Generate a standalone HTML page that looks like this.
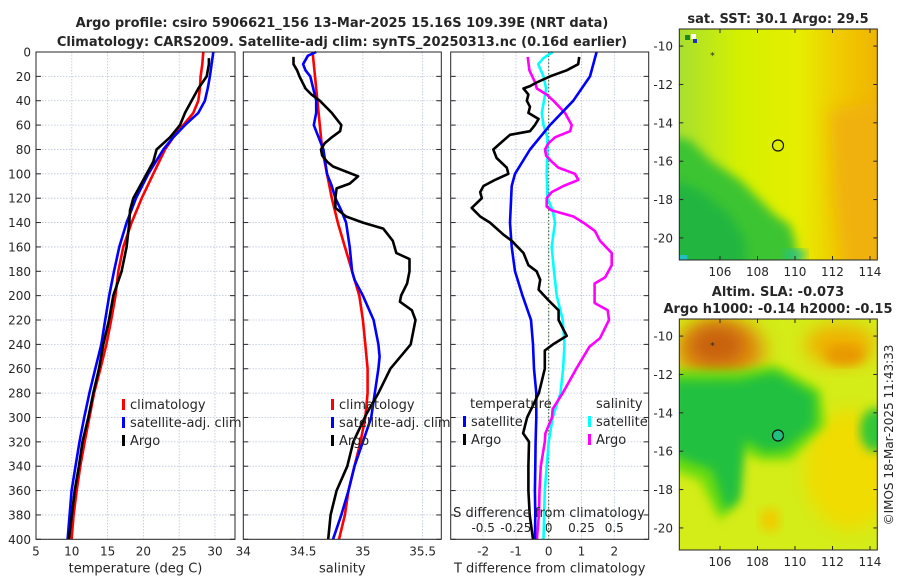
<!DOCTYPE html>
<html><head><meta charset="utf-8"><style>
body{margin:0;background:#fff}
svg text{font-family:"DejaVu Sans","Liberation Sans",sans-serif;fill:#262626}
</style></head><body>
<svg id="s" width="900" height="580" viewBox="0 0 900 580" xmlns="http://www.w3.org/2000/svg">
<defs>
<filter id="b4" x="-20%" y="-20%" width="140%" height="140%"><feGaussianBlur stdDeviation="5"/></filter>
<filter id="b8" x="-30%" y="-30%" width="160%" height="160%"><feGaussianBlur stdDeviation="9"/></filter>
<clipPath id="c1"><rect x="679.3" y="29" width="198" height="231"/></clipPath>
<clipPath id="c2"><rect x="679.3" y="319" width="198" height="231"/></clipPath>
<linearGradient id="g1" x1="0" x2="1" y1="0" y2="0">
<stop offset="0" stop-color="#a8e030"/><stop offset="0.3" stop-color="#d4f000"/><stop offset="0.6" stop-color="#e6ee00"/><stop offset="0.8" stop-color="#f0cc00"/><stop offset="1" stop-color="#f0b400"/></linearGradient>
</defs>
<text x="342" y="27" text-anchor="middle" font-size="13" font-weight="bold">Argo profile: csiro 5906621_156 13-Mar-2025 15.16S 109.39E (NRT data)</text>
<text x="342" y="46" text-anchor="middle" font-size="13" font-weight="bold">Climatology: CARS2009. Satellite-adj clim: synTS_20250313.nc (0.16d earlier)</text>

<g>
<g clip-path="url(#c1)">
<rect x="679.3" y="29" width="198" height="231" fill="url(#g1)"/>
<polygon filter="url(#b4)" fill="#3cc430" points="660,135 690,140 710,160 740,180 760,200 775,215 790,225 795,240 800,275 660,275"/>
<polygon filter="url(#b4)" fill="#22b640" points="660,175 700,190 730,215 745,240 745,275 660,275"/>
<polygon filter="url(#b8)" fill="#f0b010" points="830,110 890,100 890,275 845,275 835,200"/>
<rect x="685" y="35" width="5" height="5" fill="#1a8a20"/><rect x="691" y="34" width="5" height="5" fill="#fff"/><rect x="693" y="39" width="4" height="4" fill="#2030c0"/>
<rect x="679.3" y="255" width="8" height="5" fill="#20c0c0"/><rect x="785" y="250" width="20" height="10" fill="#20c090" filter="url(#b4)"/>
</g>
<rect x="679.3" y="29" width="198" height="231" fill="none" stroke="#262626" stroke-width="1"/>
<circle cx="778" cy="145.5" r="5.5" fill="none" stroke="#111" stroke-width="1.2"/>
<text x="778" y="23" text-anchor="middle" font-size="13" font-weight="bold">sat. SST: 30.1 Argo: 29.5</text>
</g>

<g>
<g clip-path="url(#c2)">
<rect x="679.3" y="319" width="198" height="231" fill="#d4ec18"/>
<ellipse cx="850" cy="470" rx="45" ry="60" fill="#f0dc00" filter="url(#b8)"/>
<ellipse cx="720" cy="350" rx="45" ry="32" fill="#e09010" filter="url(#b8)"/>
<ellipse cx="717" cy="345" rx="28" ry="20" fill="#c86010" filter="url(#b8)"/>
<ellipse cx="840" cy="345" rx="35" ry="20" fill="#f0b000" filter="url(#b8)"/>
<ellipse cx="845" cy="355" rx="20" ry="10" fill="#e89800" filter="url(#b4)"/>
<polygon filter="url(#b4)" fill="#6cdc10" points="672,370 740,370 775,365 820,390 825,425 790,460 760,460 740,450 735,505 720,520 700,480 672,470"/>
<polygon filter="url(#b4)" fill="#22c040" points="672,380 738,380 775,372 815,395 815,425 785,450 765,452 745,440 740,500 725,510 712,470 672,455"/>
<ellipse cx="875" cy="430" rx="15" ry="22" fill="#30c838" filter="url(#b4)"/>
<ellipse cx="770" cy="520" rx="10" ry="12" fill="#f0cc00" filter="url(#b4)"/>
</g>
<rect x="679.3" y="319" width="198" height="231" fill="none" stroke="#262626" stroke-width="1"/>
<circle cx="778" cy="435.5" r="5.5" fill="#20c080" stroke="#111" stroke-width="1.2"/>
<text x="778" y="296" text-anchor="middle" font-size="13" font-weight="bold">Altim. SLA: -0.073</text>
<text x="778" y="313" text-anchor="middle" font-size="13" font-weight="bold">Argo h1000: -0.14 h2000: -0.15</text>
</g>
<text transform="translate(893,435) rotate(-90)" text-anchor="middle" font-size="12">©IMOS 18-Mar-2025 11:43:33</text>
<g id="plots"></g>
</svg>
<script>
// ---- data ----
const redTDepth=[0,10,20,30,40,50,60,70,80,100,120,140,160,180,200,220,240,260,280,300,320,340,360,380,400];
const redT=[28.37,28.23,28.0,27.9,27.67,26.97,25.58,24.18,23.02,21.39,19.76,18.36,17.2,16.5,16.1,15.5,14.84,14.0,13.12,12.46,11.8,11.19,10.69,10.25,9.97];
const blueTDepth=[0,10,20,30,40,50,60,70,80,100,120,140,160,180,200,220,240,260,280,300,320,340,360,380,400];
const blueT=[29.77,29.53,29.3,28.98,28.6,27.67,25.81,24.18,22.78,20.69,18.97,17.66,16.64,15.89,15.22,14.67,14.12,13.29,12.46,11.74,11.08,10.52,9.97,9.69,9.42];
const argoTDepth=[5,10,20,30,40,50,60,70,80,90,100,110,120,130,140,160,180,200,220,240,260,280,300,320,340,360,380,400];
const argoT=[29.16,29.16,28.84,27.67,26.74,25.81,25.11,23.72,21.85,21.39,20.46,19.53,18.59,18.13,18.04,17.66,16.96,15.8,15.2,14.4,13.8,13.0,12.3,11.5,11.0,10.4,10.0,9.6];

const redSDepth=[0,20,40,60,80,100,120,140,160,180,200,220,240,260,280,300,320,340,360,380,400];
const redS=[34.58,34.60,34.62,34.64,34.66,34.70,34.74,34.79,34.85,34.91,34.97,35.0,35.02,35.04,35.04,35.02,34.98,34.93,34.88,34.85,34.80];
const blueSDepth=[0,3,10,15,20,40,50,60,70,80,100,110,120,130,140,160,180,187,200,220,240,250,260,280,300,320,340,360,380,400];
const blueS=[34.61,34.54,34.50,34.52,34.56,34.61,34.61,34.59,34.63,34.67,34.70,34.74,34.77,34.82,34.86,34.89,34.91,34.93,35.0,35.09,35.13,35.14,35.13,35.10,35.07,35.0,34.93,34.88,34.82,34.75];
const argoSDepth=[4,10,15,20,30,35,40,50,60,65,70,75,80,85,90,94,102,108,112,120,128,135,140,145,155,165,170,180,190,200,205,212,220,240,260,280,297,320,340,360,380,400];
const argoS=[34.42,34.42,34.45,34.47,34.52,34.57,34.64,34.74,34.82,34.81,34.74,34.68,34.65,34.66,34.70,34.75,34.96,34.89,34.78,34.77,34.77,34.86,35.0,35.17,35.25,35.28,35.39,35.39,35.37,35.32,35.31,35.41,35.44,35.40,35.23,35.13,35.03,34.92,34.87,34.78,34.73,34.71];

const argoTdDepth=[4,10,15,20,25,28,30,35,40,45,50,55,60,65,68,75,80,87,95,100,105,110,115,120,128,135,140,150,155,165,175,180,187,195,204,212,220,233,240,245,260,280,300,313,320,340,360,380,400];
const argoTd=[0.93,0.90,0.55,0.04,-0.37,-0.57,-0.77,-0.62,-0.67,-0.57,-0.62,-0.31,-0.42,-0.57,-1.18,-1.48,-1.69,-1.59,-1.28,-1.23,-1.64,-1.99,-2.09,-2.04,-2.35,-2.09,-1.79,-1.38,-1.13,-0.77,-0.62,-0.37,-0.26,-0.31,0.0,0.30,0.30,0.55,0.13,-0.12,-0.12,-0.30,-0.66,-0.78,-0.60,-0.62,-0.62,-0.58,-0.48];
const satTdDepth=[0,20,40,60,80,100,110,140,160,180,200,220,240,260,280,300,320,340,360,380,400];
const satTd=[1.46,1.26,0.75,0.04,-0.57,-1.03,-1.13,-1.18,-1.13,-1.03,-0.8,-0.54,-0.48,-0.45,-0.38,-0.38,-0.40,-0.41,-0.42,-0.41,-0.42];
const satSdDepth=[0,5,10,20,30,40,50,60,70,80,100,120,130,140,160,180,200,220,240,260,280,300,320,340,360,380,400];
const satSd=[0.03,-0.04,-0.08,-0.04,-0.02,-0.036,-0.053,-0.04,-0.01,-0.01,-0.015,-0.01,0.03,0.048,0.023,0.04,0.061,0.107,0.12,0.11,0.09,0.03,0.0,-0.015,-0.03,-0.035,-0.04];
const argoSdDepth=[4,15,25,30,35,40,50,60,65,70,75,80,85,90,95,100,105,110,115,120,127,130,135,140,147,155,165,175,185,190,206,212,220,235,242,260,280,293,300,313,320,340,360,380,400];
const argoSd=[-0.16,-0.147,-0.104,-0.091,-0.015,0.036,0.124,0.175,0.163,0.048,-0.003,-0.028,-0.02,0.023,0.074,0.2,0.226,0.112,0.023,-0.015,-0.015,0.023,0.188,0.264,0.353,0.391,0.48,0.48,0.43,0.35,0.35,0.45,0.46,0.39,0.31,0.21,0.107,0.03,0.025,-0.025,-0.03,-0.06,-0.07,-0.075,-0.09];

const depthTicks=[0,20,40,60,80,100,120,140,160,180,200,220,240,260,280,300,320,340,360,380,400];
const tTicks=[5,10,15,20,25,30];
const sTicks=[34,34.5,35,35.5];
const tdTicks=[-2,-1,0,1,2];
const sdTicks=[-0.5,-0.25,0,0.25,0.5];
const sdTickLabels=["-0.5","-0.25","0","0.25","0.5"];
const lonTicks=[106,108,110,112,114];
const latTicks=[-10,-12,-14,-16,-18,-20];

// ---- drawing ----
const NS="http://www.w3.org/2000/svg";
const root=document.getElementById('plots');
const Y0=52,Y1=539.3;
const yS=d=>Y0+(d/400)*(Y1-Y0);
function mk(tag,attrs,parent){const e=document.createElementNS(NS,tag);for(const k in attrs)e.setAttribute(k,attrs[k]);(parent||root).appendChild(e);return e;}
function lin(d0,d1,r0,r1){return v=>r0+(v-d0)/(d1-d0)*(r1-r0);}
const panels=[
 {name:'temperature-panel',x0:36,x1:235,d0:5,d1:32.8,ticks:tTicks,labels:tTicks.map(String),xlabel:'temperature (deg C)',ylab:true},
 {name:'salinity-panel',x0:243.3,x1:441.3,d0:34,d1:35.656,ticks:sTicks,labels:sTicks.map(String),xlabel:'salinity'},
 {name:'difference-panel',x0:450.7,x1:648.7,d0:-2.99,d1:3.05,ticks:tdTicks,labels:tdTicks.map(String),xlabel:'T difference from climatology'}
];
panels.forEach(p=>{
 p.x=lin(p.d0,p.d1,p.x0,p.x1);
 const g=mk('g',{});
 
 
 p.g=g;
 mk('rect',{x:p.x0,y:Y0,width:p.x1-p.x0,height:Y1-Y0,fill:'#fff'},g);
 depthTicks.forEach(d=>{
  const l=mk('line',{x1:p.x0,x2:p.x1,y1:yS(d),y2:yS(d),stroke:'#b8c4dc','stroke-width':0.8,'stroke-dasharray':'1.5,1.5'},g);
  
  
  mk('line',{x1:p.x0,x2:p.x0+5,y1:yS(d),y2:yS(d),stroke:'#262626'},g);
  mk('line',{x1:p.x1-5,x2:p.x1,y1:yS(d),y2:yS(d),stroke:'#262626'},g);
  if(p.ylab){const t=mk('text',{x:p.x0-5,y:yS(d)+4.5,'text-anchor':'end','font-size':12},g);t.textContent=d;
   
   }
 });
 p.ticks.forEach((v,i)=>{
  const X=p.x(v);
  mk('line',{x1:X,x2:X,y1:Y0,y2:Y1,stroke:'#b8c4dc','stroke-width':0.8,'stroke-dasharray':'1.5,1.5'},g);
  const t=mk('text',{x:X,y:Y1+16,'text-anchor':'middle','font-size':12},g);t.textContent=p.labels[i];
  
  
 });
 const xl=mk('text',{x:(p.x0+p.x1)/2,y:Y1+33,'text-anchor':'middle','font-size':13},g);xl.textContent=p.xlabel;
 
 
});
function series(p,depths,vals,color,name,xf){
 const f=xf||p.x;
 const pts=depths.map((d,i)=>f(vals[i]).toFixed(1)+','+yS(d).toFixed(1)).join(' ');
 const pl=mk('polyline',{points:pts,fill:'none',stroke:color,'stroke-width':2.6,'stroke-linejoin':'round'},p.g);
 
 
}
const P1=panels[0],P2=panels[1],P3=panels[2];
// zero line in diff panel
mk('line',{x1:P3.x(0),x2:P3.x(0),y1:Y0,y2:Y1,stroke:'#335522','stroke-width':1,'stroke-dasharray':'1.5,2'},P3.g);
series(P1,redTDepth,redT,'#ff0000','climatology-temperature-line');
series(P1,blueTDepth,blueT,'#0000ff','satellite-temperature-line');
series(P1,argoTDepth,argoT,'#000000','argo-temperature-line');
series(P2,redSDepth,redS,'#ff0000','climatology-salinity-line');
series(P2,blueSDepth,blueS,'#0000ff','satellite-salinity-line');
series(P2,argoSDepth,argoS,'#000000','argo-salinity-line');
const sx=lin(P3.d0/4,P3.d1/4,P3.x0,P3.x1);
series(P3,satSdDepth,satSd,'#00ffff','satellite-salinity-diff-line',sx);
series(P3,argoSdDepth,argoSd,'#ff00ff','argo-salinity-diff-line',sx);
series(P3,satTdDepth,satTd,'#0000ff','satellite-temperature-diff-line');
series(P3,argoTdDepth,argoTd,'#000000','argo-temperature-diff-line');
// S-diff axis labels inside
sdTicks.forEach((v,i)=>{const t=mk('text',{x:sx(v),y:532,'text-anchor':'middle','font-size':12},P3.g);t.textContent=sdTickLabels[i];
 
 });
{const t=mk('text',{x:549,y:517,'text-anchor':'middle','font-size':13},P3.g);t.textContent='S difference from climatology';
 
 }
panels.forEach(p=>mk('rect',{x:p.x0,y:Y0,width:p.x1-p.x0,height:Y1-Y0,fill:'none',stroke:'#262626','stroke-width':1},p.g));
// legends
function legend(x,y,color,label,name){
 const g=mk('g',{});
 
 
 if(color)mk('rect',{x:x,y:y-10,width:3,height:11,fill:color},g);
 const t=mk('text',{x:x+(color?8:0),y:y,'font-size':13},g);t.textContent=label;
}
legend(122,409,'#ff0000','climatology','legend-climatology');
legend(122,427,'#0000ff','satellite-adj. clim','legend-satellite');
legend(122,445,'#000000','Argo','legend-argo');
legend(331,409,'#ff0000','climatology','legend-climatology-2');
legend(331,427,'#0000ff','satellite-adj. clim','legend-satellite-2');
legend(331,445,'#000000','Argo','legend-argo-2');
legend(470,408,null,'temperature','legend-temperature-header');
legend(463,426,'#0000ff','satellite','legend-t-satellite');
legend(463,444,'#000000','Argo','legend-t-argo');
legend(596,408,null,'salinity','legend-salinity-header');
legend(588,426,'#00ffff','satellite','legend-s-satellite');
legend(588,444,'#ff00ff','Argo','legend-s-argo');
// map axes
const lonX=lin(103.83,114.39,679.3,877.3);
[[29,260],[319,550]].forEach(([t0,t1],k)=>{
 const latY=lin(-9.11,-21.15,t0,t1);
 lonTicks.forEach(v=>{
  mk('line',{x1:lonX(v),x2:lonX(v),y1:t1-4,y2:t1,stroke:'#262626'});
  mk('line',{x1:lonX(v),x2:lonX(v),y1:t0,y2:t0+4,stroke:'#262626'});
  const t=mk('text',{x:lonX(v),y:t1+16,'text-anchor':'middle','font-size':12});t.textContent=v;
  
  
 });
 latTicks.forEach(v=>{
  mk('line',{x1:679.3,x2:683.3,y1:latY(v),y2:latY(v),stroke:'#262626'});
  mk('line',{x1:873.3,x2:877.3,y1:latY(v),y2:latY(v),stroke:'#262626'});
  const t=mk('text',{x:673,y:latY(v)+4.5,'text-anchor':'end','font-size':12});t.textContent=v;
  
  
 });
 mk('text',{x:lonX(105.6),y:latY(-10.5)+3,'font-size':9,'text-anchor':'middle',fill:'#000'}).textContent='*';
});
</script>
</body></html>
